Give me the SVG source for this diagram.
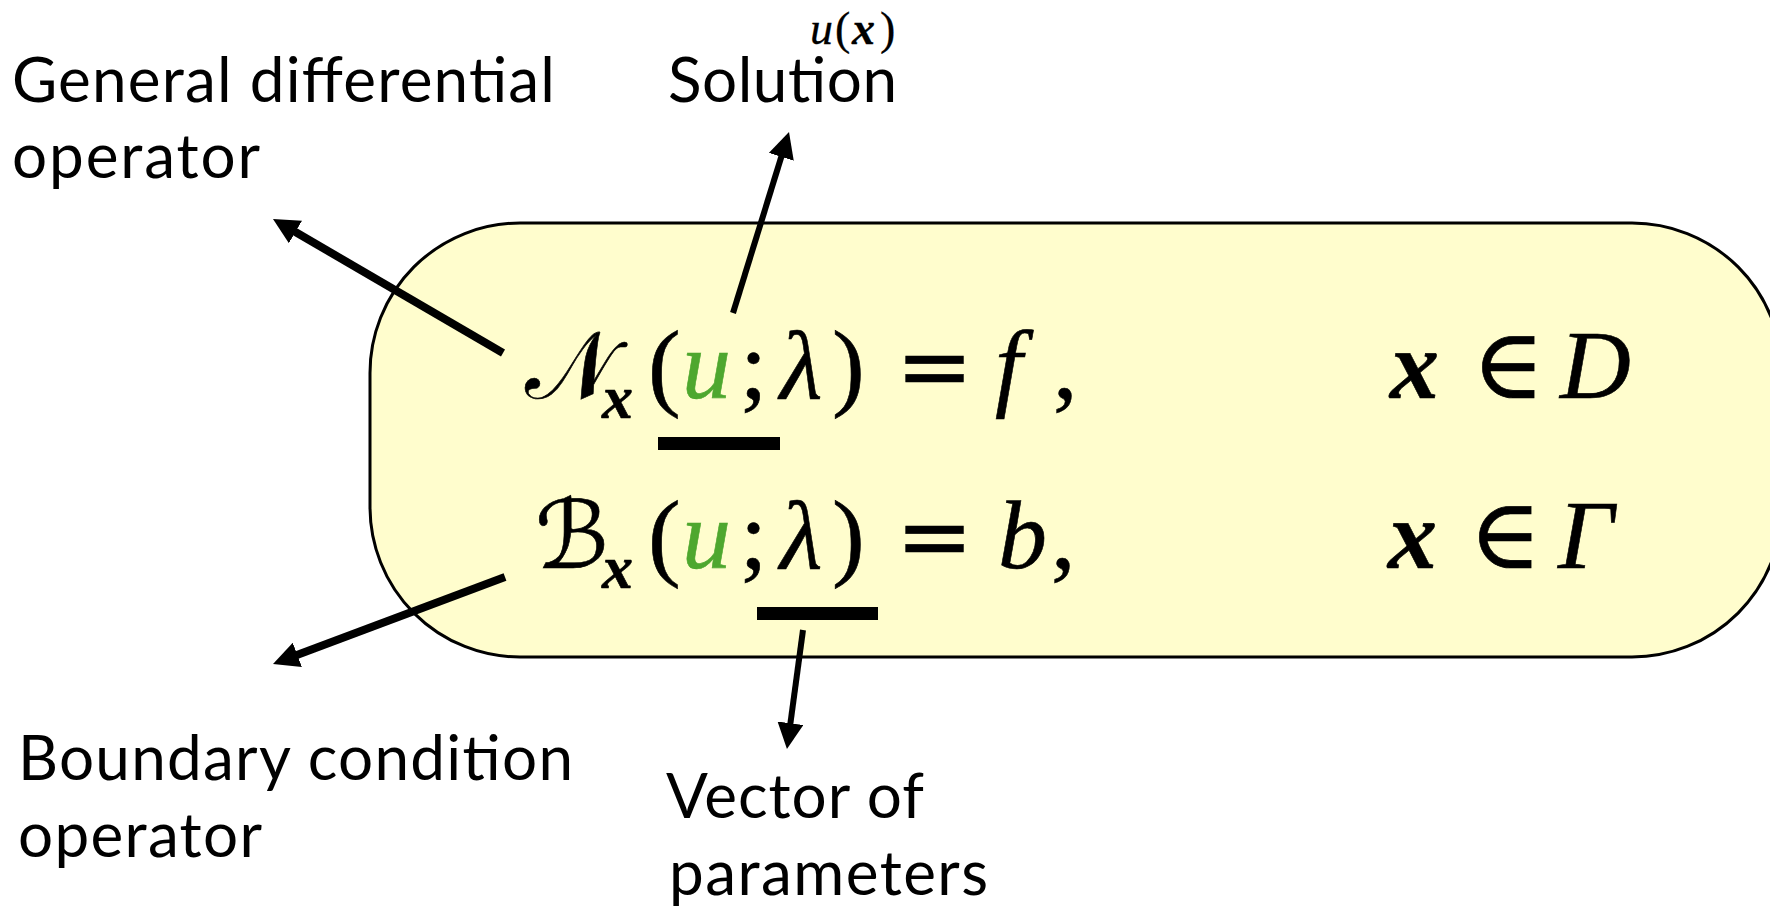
<svg xmlns="http://www.w3.org/2000/svg" width="1770" height="911" viewBox="0 0 1770 911">
<style>
.lbl{font-family:Lato,"Open Sans","Liberation Sans",sans-serif;font-size:62px;fill:#000}
.m{font-family:"Liberation Serif","DejaVu Serif",serif;font-size:98px;fill:#000;stroke:#000;stroke-width:0.6}
.i{font-style:italic}
.bi{font-style:italic;font-weight:bold}
.cal{font-family:"DejaVu Serif","DejaVu Sans","Liberation Serif",serif;font-style:normal;font-size:94px}
.eq{font-family:"DejaVu Sans",sans-serif;font-size:92px}
.g{fill:#4ea72e;stroke:#4ea72e}
.sub{font-size:62px}
.sm{font-size:46px;stroke-width:0.3}
.conn{stroke:#000;fill:none}
</style>
<defs>
<marker id="ah" markerUnits="userSpaceOnUse" markerWidth="26" markerHeight="26" viewBox="0 0 26 26" refX="4" refY="13" orient="auto">
<path d="M0,0 L26,13 L0,26 z" fill="#000"/>
</marker>
</defs>
<g id="equations">
<rect x="370" y="223" width="1412" height="434" rx="150" ry="150" fill="#fffdcd" stroke="#000" stroke-width="3"/>
<text class="m cal" x="525" y="398">𝒩</text>
<text class="m bi sub" x="602" y="418">x</text>
<text class="m" x="648" y="398">(</text>
<text class="m i g" x="682" y="398">u</text>
<text class="m" x="740" y="398">;</text>
<text class="m i" x="780" y="398">λ</text>
<text class="m" x="832" y="398">)</text>
<text class="m eq" x="896" y="398">=</text>
<text class="m i" x="995" y="398">f</text>
<text class="m" x="1053" y="398">,</text>
<text class="m bi" x="1390" y="398">x</text>
<text class="m" x="1472" y="398">∈</text>
<text class="m i" x="1560" y="398">D</text>
<rect x="658" y="437" width="122" height="13" fill="#000"/>
<text class="m cal" x="535" y="568">ℬ</text>
<text class="m bi sub" x="602" y="588">x</text>
<text class="m" x="648" y="568">(</text>
<text class="m i g" x="682" y="568">u</text>
<text class="m" x="740" y="568">;</text>
<text class="m i" x="780" y="568">λ</text>
<text class="m" x="832" y="568">)</text>
<text class="m eq" x="896" y="568">=</text>
<text class="m i" x="998" y="568">b</text>
<text class="m" x="1051" y="568">,</text>
<text class="m bi" x="1388" y="568">x</text>
<text class="m" x="1469" y="568">∈</text>
<text class="m i" x="1558" y="568">Γ</text>
<rect x="757" y="607" width="121" height="13" fill="#000"/>
</g>
<g id="label-general">
<text class="lbl" x="12" y="102" textLength="543">General differential</text>
<text class="lbl" x="12" y="178" textLength="248">operator</text>
</g>
<g id="label-solution">
<text class="lbl" x="668" y="102" textLength="229">Solution</text>
<text class="m i sm" x="810" y="44">u</text>
<text class="m sm" x="835" y="44">(</text>
<text class="m bi sm" x="852" y="44">x</text>
<text class="m sm" x="880" y="44">)</text>
</g>
<g id="label-boundary">
<text class="lbl" x="18" y="780" textLength="555">Boundary condition</text>
<text class="lbl" x="18" y="857" textLength="244">operator</text>
</g>
<g id="label-vector">
<text class="lbl" x="666" y="818" textLength="258">Vector of</text>
<text class="lbl" x="669" y="895" textLength="319">parameters</text>
</g>
<g id="connectors" class="conn" marker-end="url(#ah)">
<line x1="503" y1="353" x2="292" y2="230" stroke-width="8"/>
<line x1="733" y1="313" x2="782.5" y2="153" stroke-width="6"/>
<line x1="505" y1="577" x2="293.6" y2="656.3" stroke-width="8"/>
<line x1="803" y1="630" x2="789.9" y2="727.2" stroke-width="6"/>
</g>
</svg>
